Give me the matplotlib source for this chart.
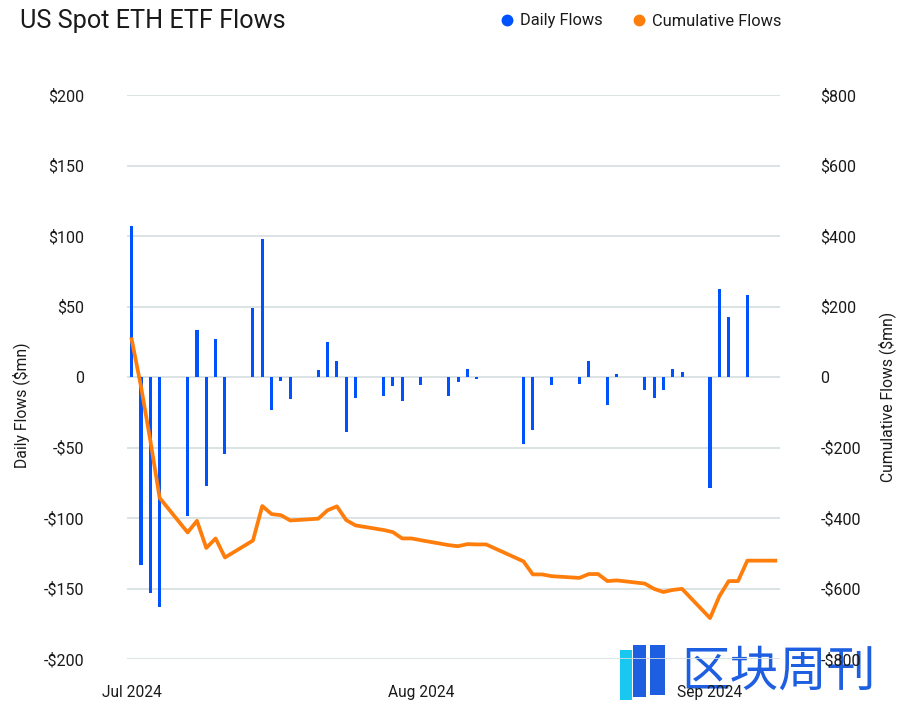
import pandas as pd
import matplotlib.pyplot as plt
from matplotlib.lines import Line2D
from matplotlib.patches import Rectangle

# trading days (bars sit at noon of each day)
days = ['2024-07-23', '2024-07-24', '2024-07-25', '2024-07-26', '2024-07-29',
        '2024-07-30', '2024-07-31', '2024-08-01', '2024-08-02', '2024-08-05',
        '2024-08-06', '2024-08-07', '2024-08-08', '2024-08-09', '2024-08-12',
        '2024-08-13', '2024-08-14', '2024-08-15', '2024-08-16', '2024-08-19',
        '2024-08-20', '2024-08-21', '2024-08-22', '2024-08-23', '2024-08-26',
        '2024-08-27', '2024-08-28', '2024-08-29', '2024-08-30', '2024-09-03',
        '2024-09-04', '2024-09-05', '2024-09-06', '2024-09-09', '2024-09-10',
        '2024-09-11', '2024-09-12', '2024-09-13', '2024-09-16', '2024-09-17',
        '2024-09-18', '2024-09-19', '2024-09-20', '2024-09-23', '2024-09-24',
        '2024-09-25', '2024-09-26', '2024-09-27', '2024-09-30']

daily = [106.8, -133.4, -152.9, -163.0, -98.6,
         33.5, -77.0, 26.7, -54.3, 48.6,
         98.1, -23.4, -2.6, -15.5, 5.0,
         24.5, 11.0, -39.3, -14.9, -13.4,
         -6.3, -17.3, 0.0, -5.6, -13.3,
         -3.2, 6.0, -1.5, 0.0, -47.4,
         -37.3, 0.0, -5.4, -4.7, 11.5,
         0.0, -19.9, 2.0, -9.1, -14.9,
         -9.1, 5.6, 3.2, -78.8, 62.4,
         42.9, 0.0, 58.5, 0.0]

cumulative = [107, -27, -180, -343, -441,
              -408, -485, -458, -512, -464,
              -366, -389, -392, -407, -402,
              -378, -367, -406, -421, -434,
              -440, -458, -458, -463, -477,
              -480, -474, -475, -475, -523,
              -560, -560, -565, -570, -559,
              -559, -579, -577, -586, -601,
              -610, -604, -601, -684, -622,
              -579, -579, -521, -521]

left_ticks = [-200, -150, -100, -50, 0, 50, 100, 150, 200]
right_ticks = [-800, -600, -400, -200, 0, 200, 400, 600, 800]
month_ticks = ['2024-07-23', '2024-08-23', '2024-09-23']
month_labels = ['Jul 2024', 'Aug 2024', 'Sep 2024']

blue = '#0052FF'
orange = '#FF7D0A'
grid = '#D5DEDF'
txt = '#1A1A1A'

plt.rcParams['font.family'] = ['Roboto', 'Noto Sans CJK SC', 'DejaVu Sans']

def money(v):
    if v == 0:
        return '0'
    return ('-$' if v < 0 else '$') + str(abs(v))

x = pd.to_datetime(days) + pd.Timedelta(hours=12)

fig = plt.figure(figsize=(9.04, 7.08), dpi=100)
W, H = 904, 708
ax = fig.add_axes([127 / W, 1 - 659 / H, (780 - 127) / W, (659 - 95) / H])
ax2 = ax.twinx()
ax.patch.set_alpha(0)
ax2.patch.set_alpha(0)

ax.bar(x, daily, width=0.33, color=blue, zorder=3)
ax2.plot(x, cumulative, color=orange, lw=2.7, solid_joinstyle='round', zorder=3)

ax.set_ylim(-200, 200)
ax2.set_ylim(-800, 800)
ax.set_xlim(pd.Timestamp('2024-07-23'), pd.Timestamp('2024-10-01'))

ax.set_yticks(left_ticks)
ax.set_yticklabels([money(v) for v in left_ticks])
ax2.set_yticks(right_ticks)
ax2.set_yticklabels([money(v) for v in right_ticks])
ax.set_xticks(pd.to_datetime(month_ticks) + pd.Timedelta(hours=12))
ax.set_xticklabels(month_labels)

for a in (ax, ax2):
    for s in a.spines.values():
        s.set_visible(False)
ax.grid(axis='y', color=grid, lw=1.2, zorder=0)
ax.set_axisbelow(True)
ax.tick_params(axis='y', length=0, pad=31, labelsize=11.5, labelcolor=txt)
ax2.tick_params(axis='y', length=0, pad=29, labelsize=11.5, labelcolor=txt)
ax.tick_params(axis='x', length=0, pad=19, labelsize=11.2, labelcolor=txt)

ax.set_ylabel('Daily Flows ($mn)', fontsize=11.3, color=txt)
ax.yaxis.set_label_coords((30 - 127) / 653, 0.45)
ax2.set_ylabel('Cumulative Flows ($mn)', fontsize=11.3, color=txt)
ax2.yaxis.set_label_coords((878 - 127) / 653, 0.465)

fig.text(20 / W, 1 - 21 / H, 'US Spot ETH ETF Flows', fontsize=18.2, color=txt,
         va='center', ha='left')

handles = [Line2D([], [], marker='o', ls='', color=blue, markersize=7.5),
           Line2D([], [], marker='o', ls='', color=orange, markersize=7.5)]
fig.legend(handles, ['Daily Flows', 'Cumulative Flows'], loc='center right',
           bbox_to_anchor=(796 / W, 1 - 21 / H), ncol=2, frameon=False,
           fontsize=11.8, handletextpad=0.3, columnspacing=1.7,
           handlelength=1.0, labelcolor=txt)

# faint watermark in the lower right corner, under the axes artists
for (x0, y0, w, h, c) in [(620, 700, 12, 50, '#19C8F0'),
                          (633, 697, 13, 52, '#1D5FE0'),
                          (650, 695, 15, 50, '#1D5FE0')]:
    fig.patches.append(Rectangle((x0 / W, 1 - y0 / H), w / W, h / H,
                                 transform=fig.transFigure, color=c,
                                 zorder=-2, lw=0))
fig.text(779 / W, 1 - 672 / H, '区块周刊', fontsize=35, color='#1D5FE0',
         ha='center', va='center', zorder=-1,
         family=['Noto Sans CJK SC', 'DejaVu Sans'])

fig.savefig('out.png', dpi=100)
